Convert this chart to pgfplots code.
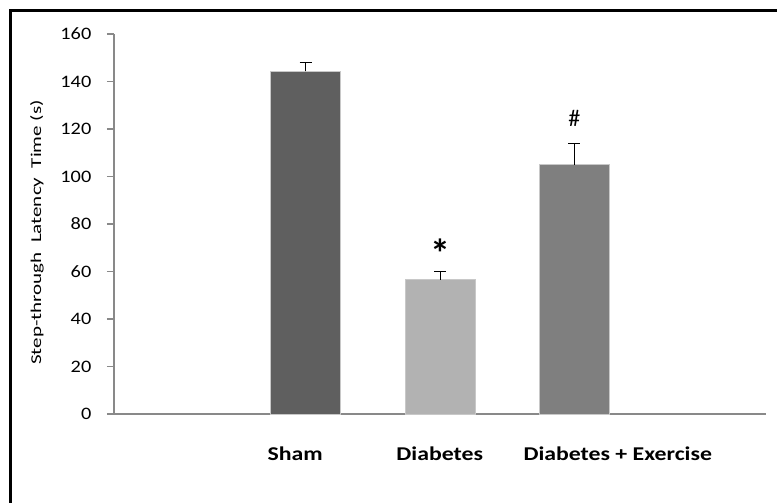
\documentclass[border=0pt]{standalone}
\usepackage{pgfplots}
\pgfplotsset{compat=1.18}
\usepackage{fontspec}
\setmainfont{Carlito}
\definecolor{axgray}{HTML}{898989}
\definecolor{cSham}{HTML}{5F5F5F}
\definecolor{cDia}{HTML}{B2B2B2}
\definecolor{cEx}{HTML}{7F7F7F}
\definecolor{cEdge}{HTML}{C8C8C8}
\begin{document}
\begin{tikzpicture}[x=1pt,y=1pt]
\useasboundingbox (0,0) rectangle (777,503);
\fill[white] (0,0) rectangle (777,503);
\draw[line width=3pt, black] (10,-5) -- (10,492) -- (790,492);
\node[rotate=90, anchor=center, font=\fontsize{15}{15}\selectfont, text=black] at (37,270.5)
  {\scalebox{1.4}[1]{Step-through\ \ Latency\ \ Time (s)}};
\begin{axis}[at={(114pt,89pt)}, anchor=south west, scale only axis,
  width=652pt, height=380pt,
  xmin=-1.426, xmax=3.426, ymin=0, ymax=160,
  axis x line=bottom, axis y line=left,
  axis line style={-, draw=axgray, line width=1.3pt},
  xtick=\empty,
  ytick={0,20,...,160},
  tick align=outside, major tick length=7pt,
  y tick style={draw=axgray, line width=1.2pt},
  /pgf/number format/assume math mode=true,
  yticklabel style={font=\fontsize{17.5}{17.5}\selectfont, xscale=1.16, text=black, xshift=-10pt},
  clip=false,
]
\addplot[ybar, bar shift=0pt, bar width=0.52, fill=cSham, draw=cEdge, line width=0.8pt,
  error bars/.cd, y dir=plus, y explicit,
  error bar style={black, line width=1pt},
  error mark options={black, rotate=90, mark size=6pt, line width=1pt}]
  coordinates {(0,144.3) +- (0,3.8)};
\addplot[ybar, bar shift=0pt, bar width=0.52, fill=cDia, draw=cEdge, line width=0.8pt,
  error bars/.cd, y dir=plus, y explicit,
  error bar style={black, line width=1pt},
  error mark options={black, rotate=90, mark size=6pt, line width=1pt}]
  coordinates {(1,56.6) +- (0,3.6)};
\addplot[ybar, bar shift=0pt, bar width=0.52, fill=cEx, draw=cEdge, line width=0.8pt,
  error bars/.cd, y dir=plus, y explicit,
  error bar style={black, line width=1pt},
  error mark options={black, rotate=90, mark size=6pt, line width=1pt}]
  coordinates {(2,105) +- (0,8.7)};
\node[font=\fontsize{19.5}{19.5}\selectfont\bfseries, anchor=base, xscale=1.22] at (axis cs:-0.078,-19.4) {Sham};
\node[font=\fontsize{19.5}{19.5}\selectfont\bfseries, anchor=base, xscale=1.22] at (axis cs:0.998,-19.4) {Diabetes};
\node[font=\fontsize{19.5}{19.5}\selectfont\bfseries, anchor=base, xscale=1.22] at (axis cs:2.323,-19.4) {Diabetes + Exercise};
\node[font=\fontsize{40}{40}\selectfont\bfseries, anchor=center] at (axis cs:1,67.5) {*};
\node[font=\fontsize{24}{24}\selectfont, anchor=center] at (axis cs:2,124.6) {\#};
\end{axis}
\end{tikzpicture}
\end{document}
